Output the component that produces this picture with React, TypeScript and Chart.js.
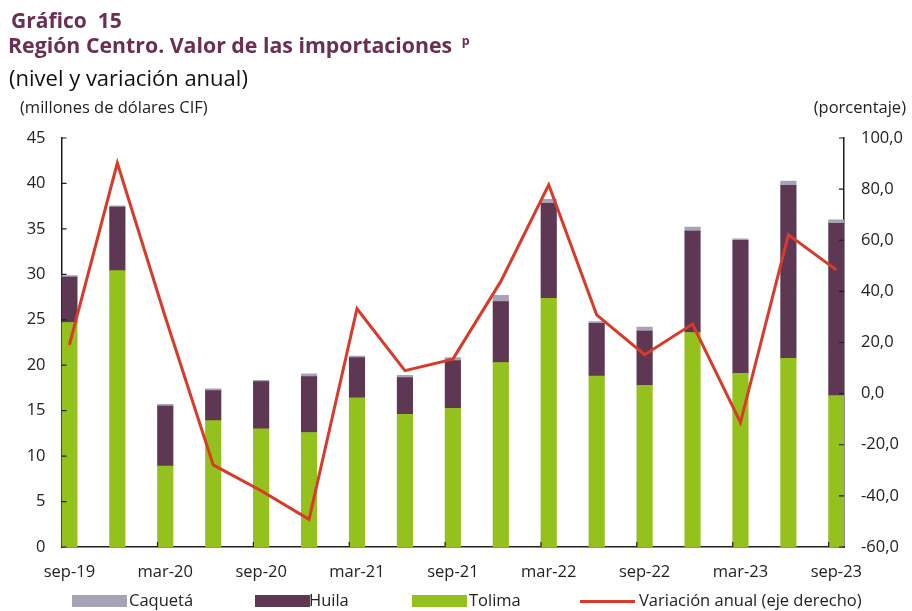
import React, { useEffect, useRef } from "react";
import { Chart, registerables } from "chart.js";

Chart.register(...registerables);

const categories = [
  "sep-19", "dic-19", "mar-20", "jun-20", "sep-20", "dic-20", "mar-21", "jun-21", "sep-21",
  "dic-21", "mar-22", "jun-22", "sep-22", "dic-22", "mar-23", "jun-23", "sep-23",
];
const tolima = [24.7, 30.4, 8.9, 13.9, 13.0, 12.6, 16.4, 14.6, 15.25, 20.3, 27.35, 18.8, 17.8, 23.6, 19.1, 20.75, 16.65];
const huila = [5.0, 7.0, 6.6, 3.3, 5.2, 6.15, 4.45, 4.05, 5.25, 6.7, 10.45, 5.8, 5.95, 11.15, 14.65, 19.05, 18.95];
const caqueta = [0.15, 0.15, 0.2, 0.2, 0.15, 0.3, 0.15, 0.25, 0.35, 0.7, 0.45, 0.2, 0.45, 0.45, 0.15, 0.45, 0.4];
const variacion = [19.1, 90.2, 30.0, -27.9, -38.0, -49.2, 33.2, 9.0, 13.5, 43.9, 81.7, 30.8, 15.2, 27.2, -11.3, 62.1, 48.4];

const leftTicks = [0, 5, 10, 15, 20, 25, 30, 35, 40, 45];
const rightTicks = [-60, -40, -20, 0, 20, 40, 60, 80, 100];

const COLORS = {
  tolima: "#95C11F",
  huila: "#5E3753",
  caqueta: "#A8A2B6",
  line: "#DA3A2A",
  title: "#6A2F52",
  axis: "#1E1E1E",
};

const FONT = "'Open Sans', sans-serif";

const legendItems = [
  { label: "Caquetá", color: COLORS.caqueta, type: "box", boxX: 72, textX: 129 },
  { label: "Huila", color: COLORS.huila, type: "box", boxX: 255, textX: 309 },
  { label: "Tolima", color: COLORS.tolima, type: "box", boxX: 412, textX: 469 },
  { label: "Variación anual (eje derecho)", color: COLORS.line, type: "line", boxX: 580, textX: 639 },
];

const innerTicks = {
  id: "innerTicks",
  afterDraw(chart: any) {
    const { ctx, chartArea, scales } = chart;
    const len = 5;
    ctx.save();
    ctx.strokeStyle = COLORS.axis;
    ctx.lineWidth = 1.2;
    ctx.beginPath();
    scales.y.ticks.forEach((t: any) => {
      const y = scales.y.getPixelForValue(t.value);
      ctx.moveTo(chartArea.left, y);
      ctx.lineTo(chartArea.left + len, y);
    });
    scales.y1.ticks.forEach((t: any) => {
      const y = scales.y1.getPixelForValue(t.value);
      ctx.moveTo(chartArea.right - len, y);
      ctx.lineTo(chartArea.right, y);
    });
    const meta = chart.getDatasetMeta(1);
    meta.data.forEach((bar: any, i: number) => {
      if (i % 2 !== 0 || i === 0) return;
      const x = bar.x - bar.width / 2;
      ctx.moveTo(x, chartArea.bottom);
      ctx.lineTo(x, chartArea.bottom - len);
    });
    ctx.stroke();
    ctx.restore();
  },
};

export default function App() {
  const ref = useRef<HTMLCanvasElement | null>(null);

  useEffect(() => {
    if (!ref.current) return;
    const toXY = (arr: number[]) => arr.map((v, i) => ({ x: i, y: v }));
    const chart = new Chart(ref.current, {
      type: "bar",
      data: {
        datasets: [
          {
            type: "line",
            label: "Variación anual (eje derecho)",
            data: toXY(variacion) as any,
            yAxisID: "y1",
            borderColor: COLORS.line,
            backgroundColor: COLORS.line,
            borderWidth: 3,
            pointRadius: 0,
            tension: 0,
            order: 0,
            clip: false as any,
          } as any,
          {
            label: "Tolima",
            data: toXY(tolima) as any,
            backgroundColor: COLORS.tolima,
            barThickness: 15.5,
            order: 1,
            stack: "s",
          },
          {
            label: "Huila",
            data: toXY(huila) as any,
            backgroundColor: COLORS.huila,
            barThickness: 15.5,
            order: 1,
            stack: "s",
          },
          {
            label: "Caquetá",
            data: toXY(caqueta) as any,
            backgroundColor: COLORS.caqueta,
            barThickness: 15.5,
            order: 1,
            stack: "s",
          },
        ],
      },
      options: {
        animation: false,
        responsive: false,
        maintainAspectRatio: false,
        layout: { padding: { top: 138, left: 0, right: 0, bottom: 24 } },
        plugins: {
          legend: { display: false },
          tooltip: { enabled: false },
          title: { display: false },
        },
        scales: {
          x: {
            type: "linear",
            stacked: true,
            offset: false,
            min: -0.165,
            max: 16.16,
            afterBuildTicks: (scale: any) => {
              scale.ticks = categories
                .map((_, i) => ({ value: i }))
                .filter((t) => t.value % 2 === 0);
            },
            afterFit: (scale: any) => {
              scale.height = 40;
            },
            grid: { display: false, drawTicks: false, offset: false },
            border: { display: true, color: COLORS.axis, width: 1.5 },
            ticks: {
              autoSkip: false,
              maxRotation: 0,
              padding: 15,
              color: "#222",
              font: { family: FONT, size: 16.5 },
              callback: (v: any) => categories[Math.round(Number(v))] ?? "",
            },
          },
          y: {
            type: "linear",
            position: "left",
            stacked: true,
            min: 0,
            max: 45,
            afterBuildTicks: (scale: any) => {
              scale.ticks = leftTicks.map((v) => ({ value: v }));
            },
            afterFit: (scale: any) => {
              scale.width = 61.5;
            },
            grid: { display: false, drawTicks: false },
            border: { display: true, color: COLORS.axis, width: 1.5 },
            ticks: {
              padding: 16,
              color: "#222",
              font: { family: FONT, size: 16.5 },
            },
          },
          y1: {
            type: "linear",
            position: "right",
            min: -60,
            max: 100,
            afterBuildTicks: (scale: any) => {
              scale.ticks = rightTicks.map((v) => ({ value: v }));
            },
            afterFit: (scale: any) => {
              scale.width = 68;
            },
            grid: { display: false, drawTicks: false },
            border: { display: true, color: COLORS.axis, width: 1.5 },
            ticks: {
              padding: 17,
              color: "#222",
              font: { family: FONT, size: 16.5 },
              callback: (v: any) => Number(v).toFixed(1).replace(".", ","),
            },
          },
        },
      } as any,
      plugins: [innerTicks],
    });
    return () => chart.destroy();
  }, []);

  return (
    <div
      style={{
        position: "absolute",
        left: 0,
        top: 0,
        width: 912,
        height: 611,
        background: "#fff",
        fontFamily: FONT,
        overflow: "hidden",
      }}
    >
      <canvas ref={ref} width={912} height={611} style={{ position: "absolute", left: 0, top: 0 }} />
      <div style={{ position: "absolute", left: 11, top: 6, fontSize: 21, fontWeight: 700, color: COLORS.title, whiteSpace: "nowrap", lineHeight: "28px" }}>
        Gráfico&nbsp; 15
      </div>
      <div style={{ position: "absolute", left: 8, top: 30, fontSize: 21.3, fontWeight: 700, color: COLORS.title, whiteSpace: "nowrap", lineHeight: "30px" }}>
        Región Centro. Valor de las importaciones{" "}
        <span style={{ fontSize: 12.5, position: "relative", top: -8, marginLeft: 4 }}>p</span>
      </div>
      <div style={{ position: "absolute", left: 9, top: 62, fontSize: 22, color: "#111", whiteSpace: "nowrap", lineHeight: "30px" }}>
        (nivel y variación anual)
      </div>
      <div style={{ position: "absolute", left: 20, top: 96, fontSize: 16.5, color: "#222", whiteSpace: "nowrap", lineHeight: "22px" }}>
        (millones de dólares CIF)
      </div>
      <div style={{ position: "absolute", right: 6, top: 96, fontSize: 16.5, color: "#222", whiteSpace: "nowrap", lineHeight: "22px" }}>
        (porcentaje)
      </div>
      {legendItems.map((it) => (
        <React.Fragment key={it.label}>
          <span
            style={{
              position: "absolute",
              left: it.boxX,
              top: it.type === "box" ? 595 : 599.5,
              width: it.type === "box" ? 55 : 55,
              height: it.type === "box" ? 12 : 3,
              background: it.color,
            }}
          />
          <span
            style={{
              position: "absolute",
              left: it.textX,
              top: 589,
              fontSize: 16.5,
              lineHeight: "22px",
              color: "#222",
              whiteSpace: "nowrap",
            }}
          >
            {it.label}
          </span>
        </React.Fragment>
      ))}
    </div>
  );
}
